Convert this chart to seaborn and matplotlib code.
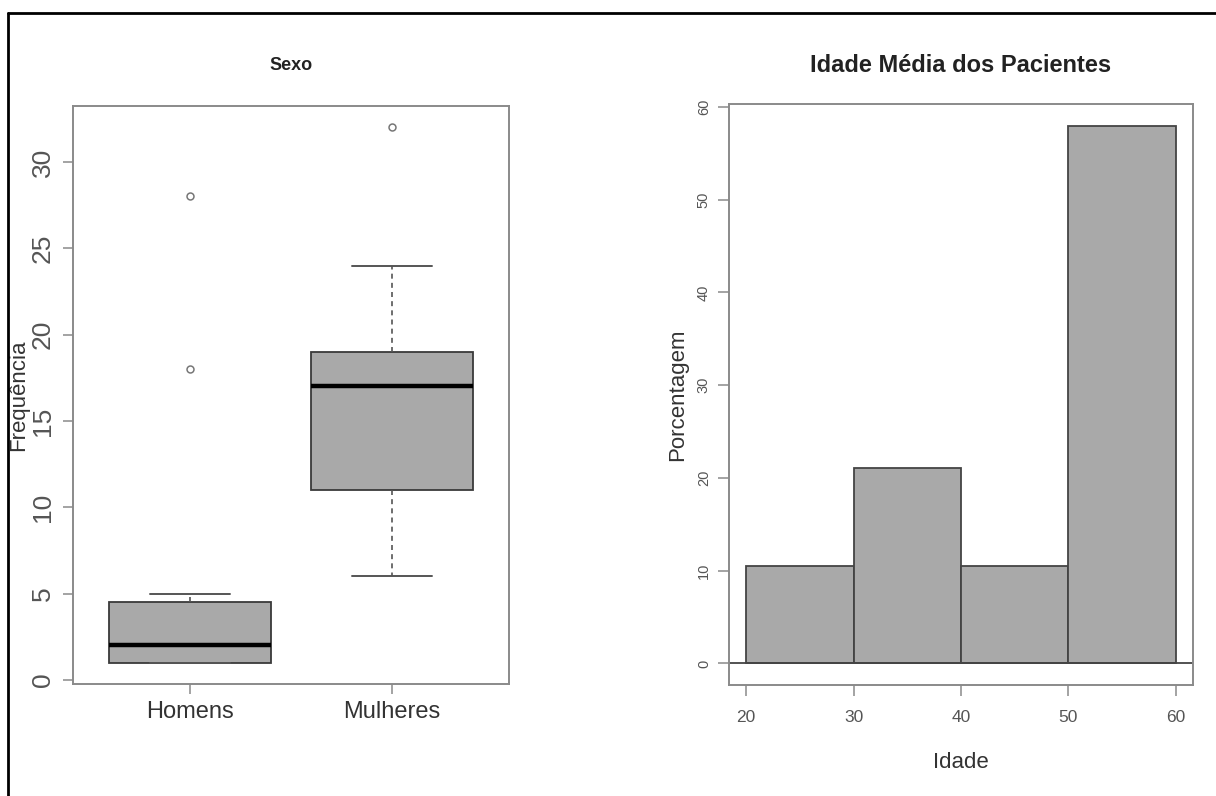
import matplotlib
matplotlib.use("Agg")
import matplotlib.pyplot as plt
from matplotlib.lines import Line2D
import numpy as np
import pandas as pd
import seaborn as sns

# Left panel: frequencies by sex (boxplot)
sexo = ["Homens", "Mulheres"]
freq_homens = [1, 1, 1, 1, 2, 2, 3, 4, 5, 18, 28]
freq_mulheres = [6, 9, 11, 11, 15, 17, 18, 19, 19, 24, 32]

# Right panel: age histogram (counts per 10-year bin)
idade_bins = [20, 30, 40, 50, 60]
idade_contagem = [2, 4, 2, 11]

sns.set_style("white")
plt.rcParams["font.family"] = ["Liberation Sans", "DejaVu Sans"]

FILL = "#a9a9a9"
FRAME = "#8a8a8a"
TXT = "#555555"

df = pd.DataFrame({
    "Sexo": [sexo[0]] * len(freq_homens) + [sexo[1]] * len(freq_mulheres),
    "Freq": freq_homens + freq_mulheres,
})

fig = plt.figure(figsize=(12.16, 7.96), dpi=100)
W, H = 1216, 796
ax1 = fig.add_axes([73 / W, (H - 684) / H, 436 / W, 578 / H])
ax2 = fig.add_axes([729 / W, (H - 685) / H, 464 / W, 581 / H])

# ---- boxplot
sns.boxplot(
    data=df, x="Sexo", y="Freq", ax=ax1,
    color=FILL, saturation=1, width=0.8, linecolor="#3a3a3a", linewidth=1.3,
    medianprops=dict(color="black", linewidth=3.2),
    whiskerprops=dict(color="#555555", linestyle=(0, (3, 2.5)), linewidth=1.2),
    capprops=dict(color="#555555", linewidth=1.4),
    flierprops=dict(marker="o", markersize=5, markerfacecolor="none",
                    markeredgecolor="#777777", markeredgewidth=1.1),
)
ax1.set_xlim(-0.58, 1.58)
ax1.set_ylim(-0.24, 33.24)
ax1.set_yticks(range(0, 31, 5))
ax1.set_title("Sexo", fontsize=13, fontweight="bold", color="#222222", pad=26)
ax1.set_xlabel("")
ax1.set_ylabel("Frequência", fontsize=16, color="#333333")
ax1.yaxis.label.set_va("center")
ax1.yaxis.set_label_coords(-0.125, 0.5)
ax1.tick_params(axis="y", left=True, labelrotation=90, length=7, width=1.1,
                color=FRAME, labelsize=19, labelcolor=TXT, pad=6)
ax1.tick_params(axis="x", bottom=True, length=7, width=1.1, color=FRAME,
                labelsize=17, labelcolor="#333333", pad=5)
for lab in ax1.get_yticklabels():
    lab.set_va("center")

# ---- histogram
mids = (np.array(idade_bins[:-1]) + np.array(idade_bins[1:])) / 2
sns.histplot(
    x=mids, weights=idade_contagem, bins=idade_bins, stat="percent", ax=ax2,
    color=FILL, alpha=1, edgecolor="#444444", linewidth=1.3,
)
ax2.axhline(0, color="#444444", linewidth=1.3)
ax2.set_xlim(18.4, 61.6)
ax2.set_ylim(-2.32, 60.3)
ax2.set_xticks(idade_bins)
ax2.set_yticks(range(0, 61, 10))
ax2.set_title("Idade Média dos Pacientes", fontsize=17, fontweight="bold",
              color="#222222", pad=23)
ax2.set_xlabel("Idade", fontsize=16, color="#333333")
ax2.xaxis.label.set_va("center")
ax2.xaxis.set_label_coords(0.5, -0.134)
ax2.set_ylabel("Porcentagem", fontsize=16, color="#333333")
ax2.yaxis.label.set_va("center")
ax2.yaxis.set_label_coords(-0.11, 0.5)
ax2.tick_params(axis="y", left=True, labelrotation=90, length=8, width=1.1,
                color=FRAME, labelsize=10.5, labelcolor=TXT, pad=5)
ax2.tick_params(axis="x", bottom=True, length=8, width=1.1, color=FRAME,
                labelsize=12.5, labelcolor=TXT, pad=10)
for lab in ax2.get_yticklabels():
    lab.set_va("center")

for ax in (ax1, ax2):
    for sp in ax.spines.values():
        sp.set_visible(True)
        sp.set_color(FRAME)
        sp.set_linewidth(1.4)

# outer border (top and left edges visible in the original)
fig.add_artist(Line2D([8 / W, 1], [1 - 13 / H, 1 - 13 / H],
                      transform=fig.transFigure, color="black", linewidth=2))
fig.add_artist(Line2D([8 / W, 8 / W], [0, 1 - 13 / H],
                      transform=fig.transFigure, color="black", linewidth=2))

fig.savefig("out.png", dpi=100, facecolor="white")
